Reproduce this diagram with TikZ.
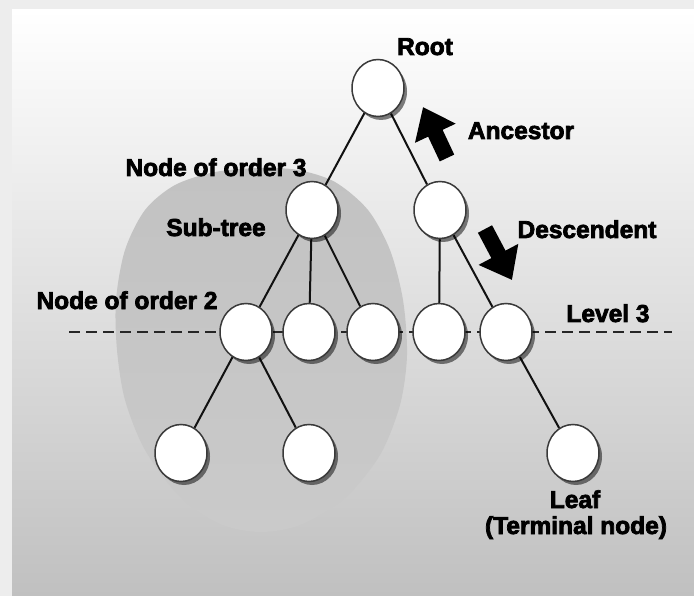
\documentclass[tikz,border=0pt]{standalone}
\usepackage{fontspec}
\setmainfont[BoldFeatures={FakeBold=3}]{Liberation Sans}
\usetikzlibrary{shapes.geometric,shadows,arrows.meta}
\definecolor{framec}{HTML}{EDEDED}
\definecolor{bgtop}{HTML}{FFFFFF}
\definecolor{bgmid}{HTML}{E2E2E2}
\definecolor{bgbot}{HTML}{C0C0C0}
\definecolor{subtop}{HTML}{C2C2C2}
\definecolor{subbot}{HTML}{CACACA}
\definecolor{edgec}{HTML}{111111}
\definecolor{rimc}{HTML}{3A3A3A}
\pgfdeclarelayer{back}
\pgfdeclarelayer{edges}
\pgfsetlayers{back,edges,main}
\begin{document}
\begin{tikzpicture}[x=1pt,y=-1pt,
  tnode/.style={ellipse, draw=rimc, line width=1.5pt, fill=white,
    minimum width=52pt, minimum height=57pt, inner sep=0pt,
    drop shadow={shadow xshift=3pt, shadow yshift=-3.5pt, opacity=0.5, fill=black}},
  lbl/.style={font=\bfseries\fontsize{24.5}{27}\selectfont, anchor=base, text=black, inner sep=0pt},
  treeedge/.style={line width=2pt, draw=edgec},
  levelline/.style={line width=1.8pt, draw=black!85, dash pattern=on 11pt off 6pt},
  bigarrow/.style={line width=16pt, draw=black, -{Triangle[length=29pt,width=43pt]}}]
\useasboundingbox (0,0) rectangle (694,596);
\begin{pgfonlayer}{back}
  \fill[framec] (0,0) rectangle (694,596);
  \shade[top color=bgtop, middle color=bgmid, bottom color=bgbot] (12,10) rectangle (694,596);
  \shade[top color=subtop, bottom color=subbot]
    plot[smooth cycle] coordinates {(260,168) (215,172) (175,185) (145,210) (125,250) (116,300) (117,350) (125,400) (145,450) (180,497) (220,524) (260,532) (300,525) (345,498) (380,455) (400,405) (407,355) (403,300) (390,250) (368,210) (335,182) (298,170)};
\end{pgfonlayer}

% nodes
\node[tnode] (root) at (378,88) {};
\node[tnode] (a) at (312,210) {};
\node[tnode] (b) at (440,210) {};
\node[tnode] (c1) at (246,332) {};
\node[tnode] (c2) at (309,332) {};
\node[tnode] (c3) at (373,332) {};
\node[tnode] (c4) at (439,332) {};
\node[tnode] (c5) at (506,332) {};
\node[tnode] (d1) at (181,453) {};
\node[tnode] (d2) at (309,453) {};
\node[tnode] (d3) at (573,453) {};

\coordinate (lvlL) at (69,332);
\coordinate (lvlR) at (672,332);

\begin{pgfonlayer}{edges}
  \draw[levelline] (lvlL) -- (lvlR);
  \draw[treeedge] (root) -- (a);
  \draw[treeedge] (root) -- (b);
  \draw[treeedge] (a) -- (c1);
  \draw[treeedge] (a) -- (c2);
  \draw[treeedge] (a) -- (c3);
  \draw[treeedge] (b) -- (c4);
  \draw[treeedge] (b) -- (c5);
  \draw[treeedge] (c1) -- (d1);
  \draw[treeedge] (c1) -- (d2);
  \draw[treeedge] (c5) -- (d3);
\end{pgfonlayer}

% big arrows
\coordinate (ancTail) at (447,158);
\coordinate (ancTip) at (423,107);
\coordinate (desTail) at (485,229);
\coordinate (desTip) at (512,280);
\draw[bigarrow] (ancTail) -- (ancTip);
\draw[bigarrow] (desTail) -- (desTip);

% labels
\node[lbl] (lroot) at (425,55) {Root};
\node[lbl] (lanc) at (521,139) {Ancestor};
\node[lbl] (lord3) at (216,176) {Node of order 3};
\node[lbl] (lsub) at (216,236) {Sub-tree};
\node[lbl] (ldes) at (587,238) {Descendent};
\node[lbl] (lord2) at (127,309) {Node of order 2};
\node[lbl] (llev) at (608,322) {Level 3};
\node[lbl] (lleaf) at (575,508) {Leaf};
\node[lbl] (lterm) at (576,534) {(Terminal node)};
\end{tikzpicture}
\end{document}
